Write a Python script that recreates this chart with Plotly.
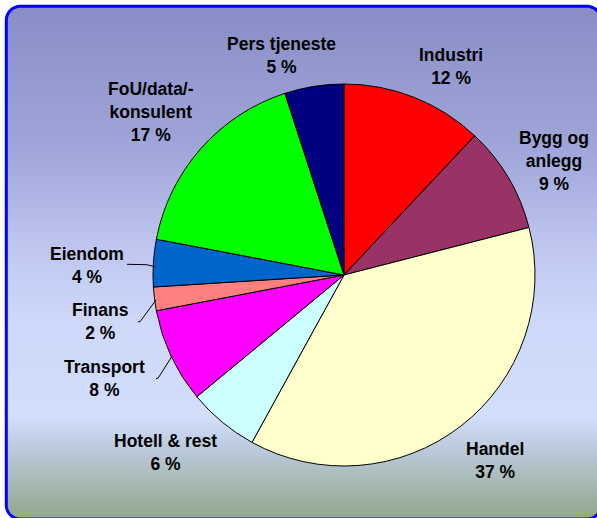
import numpy as np
import plotly.graph_objects as go

# ---- data ----
categories = ["Industri", "Bygg og anlegg", "Handel", "Hotell & rest", "Transport",
              "Finans", "Eiendom", "FoU/data/-konsulent", "Pers tjeneste"]
label_lines = ["Industri", "Bygg og<br>anlegg", "Handel", "Hotell & rest", "Transport",
               "Finans", "Eiendom", "FoU/data/-<br>konsulent", "Pers tjeneste"]
shares = [12, 9, 37, 6, 8, 2, 4, 17, 5]
colors = ["#FF0000", "#993366", "#FFFFCC", "#CCFFFF", "#FF00FF",
          "#FF8080", "#0066CC", "#00FF00", "#000080"]

# label anchor positions (layout, px in a 597x518 canvas)
label_pos = [(451, 66), (554, 161), (495, 460), (165, 452), (104, 378),
             (100, 321), (87, 265), (151, 112), (281, 55)]

W, H = 597, 518

# rounded frame polygon (decoration)
x0, x1, y0, y1, r = 6.3, 601.0, 6.3, 519.0, 14
def arc(cx, cy, a0, a1):
    t = np.linspace(np.radians(a0), np.radians(a1), 20)
    return cx + r * np.cos(t), cy + r * np.sin(t)
xs, ys = [], []
for (cx, cy, a0, a1) in [(x1 - r, y0 + r, 0, -90), (x0 + r, y0 + r, 270, 180),
                         (x0 + r, y1 - r, 180, 90), (x1 - r, y1 - r, 90, 0)]:
    ax, ay = arc(cx, cy, a0, a1)
    xs += list(ax); ys += list(ay)

grad = [
    [0.00, "rgb(137,141,198)"],
    [0.28, "rgb(160,166,217)"],
    [0.47, "rgb(190,198,240)"],
    [0.61, "rgb(206,216,250)"],
    [0.80, "rgb(210,222,252)"],
    [0.855, "rgb(190,204,224)"],
    [1.00, "rgb(145,167,139)"],
]

fig = go.Figure()
fig.add_trace(go.Scatter(
    x=xs + [xs[0]], y=ys + [ys[0]], mode="lines", fill="toself",
    fillgradient=dict(type="vertical", colorscale=grad, start=y0, stop=y1),
    line=dict(color="rgba(0,0,0,0)", width=0), hoverinfo="skip", showlegend=False))

# open border path (right side lies outside the canvas)
frame_path = "M " + " L ".join(f"{a:.2f},{b:.2f}" for a, b in zip(xs, ys))
fig.add_shape(type="path", path=frame_path, xref="x", yref="y",
              line=dict(color="#0000FF", width=3), layer="above")

fig.add_trace(go.Pie(
    labels=categories, values=shares, sort=False, direction="clockwise", rotation=0,
    marker=dict(colors=colors, line=dict(color="#000000", width=1)),
    textinfo="none", hoverinfo="label+percent", showlegend=False,
    domain=dict(x=[153 / W, 535 / W], y=[1 - 466 / H, 1 - 84 / H])))

total = sum(shares)
for txt, v, (lx, ly) in zip(label_lines, shares, label_pos):
    fig.add_annotation(x=lx, y=ly, xref="x", yref="y",
                       text=f"<b>{txt}<br>{round(100 * v / total)} %</b>",
                       showarrow=False, xanchor="center", yanchor="middle",
                       font=dict(family="Liberation Sans, Arial, sans-serif", size=17.5, color="#000000"))

# leader lines
leaders = [
    [(127, 264.3), (146.7, 264.7), (155, 266.7)],
    [(138, 321.7), (140, 321.7), (156, 300)],
    [(156, 378.3), (158, 378.3), (171.7, 356.7)],
]
for pts in leaders:
    path = "M " + " L ".join(f"{px},{py}" for px, py in pts)
    fig.add_shape(type="path", path=path, xref="x", yref="y",
                  line=dict(color="#000000", width=1))

fig.update_layout(
    width=W, height=H, margin=dict(l=0, r=0, t=0, b=0),
    paper_bgcolor="white", plot_bgcolor="rgba(0,0,0,0)",
    xaxis=dict(range=[0, W], visible=False, fixedrange=True),
    yaxis=dict(range=[H, 0], visible=False, fixedrange=True),
)
fig.write_html("out.html", config={"displayModeBar": False},
               post_script="document.body.style.margin='0';document.body.style.overflow='hidden';")
